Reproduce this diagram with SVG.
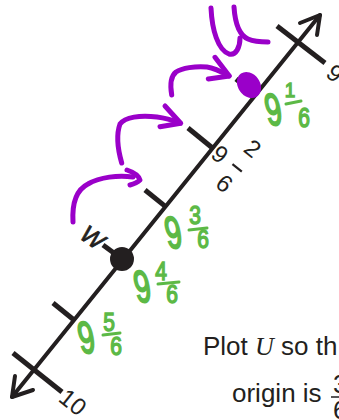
<svg xmlns="http://www.w3.org/2000/svg" width="339" height="420" viewBox="0 0 339 420">
<style>
.ax{stroke:#231f20;stroke-width:4;fill:none;stroke-linecap:round;stroke-linejoin:round}
.tk{stroke:#231f20;stroke-width:5;fill:none;stroke-linecap:butt}
.lb{fill:#231f20;font-family:"Liberation Sans",Arial,sans-serif;font-size:24px;text-anchor:middle}
.g{fill:#5cb946;stroke:#5cb946;stroke-width:1.2;font-family:"Liberation Sans",Arial,sans-serif;text-anchor:middle}
.gb{stroke:#5cb946;stroke-width:3;stroke-linecap:round;fill:none}
.pp{stroke:#9a00c9;stroke-width:5;fill:none;stroke-linecap:round;stroke-linejoin:round}
.tx{fill:#231f20;font-family:"Liberation Sans",Arial,sans-serif;font-size:26px}
</style>
<rect width="339" height="420" fill="#ffffff"/>
<g id="axis">
<path class="ax" d="M12,397 L320,15"/>
<path class="ax" d="M300,23 L320,15 L317,35"/>
<path class="ax" d="M15,376 L12,397 L33,390"/>
<path class="tk" d="M277,26 L325,63"/>
<path class="tk" d="M13,353 L62,392"/>
<path class="tk" d="M236,79 L255.5,94.7"/>
<path class="tk" d="M188,128 L212.5,148"/>
<path class="tk" d="M145,190 L165.3,206.4"/>
<path class="tk" d="M103,245 L122,259"/>
<path class="tk" d="M53,303 L73.7,319.8"/>
</g>
<g id="label-9">
<text class="lb" transform="translate(335,73) rotate(38.8)" y="8.5">9</text>
</g>
<g id="label-10">
<text class="lb" transform="translate(73,402) rotate(38.8)" y="8.5">10</text>
</g>
<g id="label-9-2-6" transform="translate(220,154) rotate(38.8)">
<text class="lb" x="0" y="8.5">9</text>
<text class="lb" x="22" y="-16.5">2</text>
<path d="M16,0 L28,0" stroke="#231f20" stroke-width="2.2"/>
<text class="lb" x="22" y="28.5">6</text>
</g>
<g id="point-W">
<circle cx="122" cy="259" r="12" fill="#231f20"/>
<text class="lb" transform="translate(93,237) rotate(35)" y="9" font-size="27" font-style="italic" stroke="#231f20" stroke-width="0.8">W</text>
</g>
<g id="point-U">
<ellipse cx="249" cy="85" rx="11" ry="14" transform="rotate(-35 249 85)" fill="#9a00c9"/>
<path class="pp" d="M211,8 C212,30 218,50 229,54 C236,56 240,47 240,38"/>
<path class="pp" d="M234,7 C235,22 239,35 248,39 C255,42 262,42 268,42"/>
</g>
<g id="label-9-1-6">
<text class="g" font-size="28" transform="translate(276,125) skewX(10) scale(1.05,1.6)">9</text>
<text class="g" font-size="19" transform="translate(290,97) scale(1,1.1)">1</text>
<path class="gb" d="M286,104 L301,101"/>
<text class="g" font-size="21" transform="translate(304,127) scale(1,1.3)">6</text>
</g>
<g id="label-9-3-6">
<text class="g" font-size="28" transform="translate(176,248) skewX(10) scale(1.05,1.6)">9</text>
<text class="g" font-size="21" transform="translate(195,224) scale(1,1.2)">3</text>
<path class="gb" d="M189,230 L207,228"/>
<text class="g" font-size="21" transform="translate(203,248) scale(1,1.2)">6</text>
</g>
<g id="label-9-4-6">
<text class="g" font-size="28" transform="translate(145,302) skewX(10) scale(1.05,1.6)">9</text>
<text class="g" font-size="21" transform="translate(161,280) scale(1,1.2)">4</text>
<path class="gb" d="M158,284 L179,282"/>
<text class="g" font-size="21" transform="translate(172,303) scale(1,1.2)">6</text>
</g>
<g id="label-9-5-6">
<text class="g" font-size="28" transform="translate(89,353) skewX(10) scale(1.05,1.6)">9</text>
<text class="g" font-size="21" transform="translate(109,331) scale(1,1.2)">5</text>
<path class="gb" d="M103,335 L120,333"/>
<text class="g" font-size="21" transform="translate(116,355) scale(1,1.2)">6</text>
</g>
<g id="connectors">
<path class="pp" d="M73,222 C72,205 76,190 88,184 C100,177 118,175 133,177"/>
<path class="pp" d="M127,170 C133,172 139,176 140,180 C138,182 134,184 130,185"/>
<path class="pp" d="M121.7,163 C118,150 116,135 120,124 C125,117 140,115 157,117 C165,118 172,120 180,123"/>
<path class="pp" d="M165,106 L180.7,123.3 L160,126.7"/>
<path class="pp" d="M171.7,95 C170,85 171,76 176,72 C182,68 195,66 207,67 C215,68 222,72 229,76"/>
<path class="pp" d="M215,57.3 L229.3,76 L208.3,79"/>
</g>
<g id="prompt">
<text class="tx" x="203" y="355">Plot <tspan font-family="'Liberation Serif',serif" font-style="italic">U</tspan> so th</text>
<text class="tx" x="232" y="402">origin is</text>
<text class="tx" font-size="22" x="333" y="393">3</text>
<path d="M331,397 L345,397" stroke="#231f20" stroke-width="1.5"/>
<text class="tx" font-size="22" x="333" y="419">6</text>
</g>
</svg>
